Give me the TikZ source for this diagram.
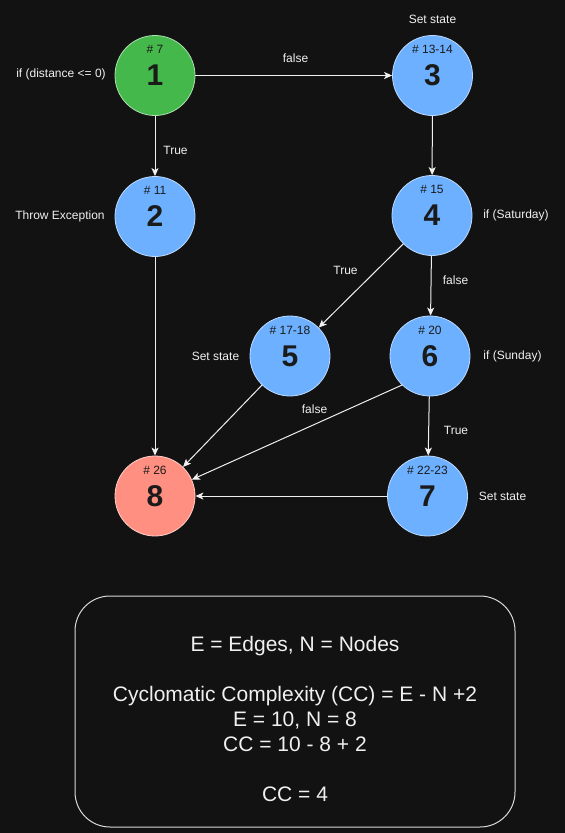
\documentclass[tikz,border=0pt]{standalone}
\usepackage{fontspec}
\setmainfont{Liberation Sans}
\usetikzlibrary{arrows.meta}
\definecolor{bg}{HTML}{121212}
\definecolor{cgreen}{HTML}{44B84A}
\definecolor{cblue}{HTML}{6CB0FF}
\definecolor{cred}{HTML}{FF8F80}
\definecolor{ink}{HTML}{1A1A1A}
\definecolor{edgec}{HTML}{F0F0F0}
\tikzset{
  state/.style={circle, minimum size=80pt, inner sep=0pt, draw=white!55!#1, line width=0.8pt, fill=#1, text=ink, font=\fontsize{30}{30}\selectfont\bfseries},
  hashlbl/.style={text=ink, font=\fontsize{12}{14}\selectfont, inner sep=0pt},
  lbl/.style={text=edgec, font=\fontsize{12}{14}\selectfont, inner sep=0pt},
  arr/.style={draw=edgec, line width=1pt, -{Stealth[length=8pt,width=7pt,inset=2pt]}},
}
\begin{document}
\begin{tikzpicture}[x=1pt,y=-1pt]
\fill[bg] (0,0) rectangle (565,833);
\useasboundingbox (0,0) rectangle (565,833);
% nodes
\node[state=cgreen] (n1) at (155,75.5) {1};
\node[state=cblue]  (n2) at (155,216.5) {2};
\node[state=cblue]  (n3) at (432.5,75.5) {3};
\node[state=cblue]  (n4) at (432,215.5) {4};
\node[state=cblue]  (n5) at (290,356) {5};
\node[state=cblue]  (n6) at (430,356) {6};
\node[state=cblue]  (n7) at (427.5,496) {7};
\node[state=cred]   (n8) at (155,496) {8};
% hash labels
\node[hashlbl] (h1) at (155,49) {\# 7};
\node[hashlbl] (h2) at (155,190.5) {\# 11};
\node[hashlbl] (h3) at (432.5,49.5) {\# 13-14};
\node[hashlbl] (h4) at (432,189.5) {\# 15};
\node[hashlbl] (h5) at (290,330.5) {\# 17-18};
\node[hashlbl] (h6) at (430,330.5) {\# 20};
\node[hashlbl] (h7) at (427.5,470.5) {\# 22-23};
\node[hashlbl] (h8) at (155,470.5) {\# 26};
% side labels
\node[lbl] (l1) at (61,74) {if (distance <= 0)};
\node[lbl] (l2) at (60,216) {Throw Exception};
\node[lbl] (l3) at (432.5,19) {Set state};
\node[lbl] (l4) at (516,215) {if (Saturday)};
\node[lbl] (l5) at (215.5,356) {Set state};
\node[lbl] (l6) at (512.5,356) {if (Sunday)};
\node[lbl] (l7) at (502.5,496) {Set state};
% edge labels
\node[lbl] (e12) at (175.5,150) {True};
\node[lbl] (e13) at (295.5,58) {false};
\node[lbl] (e45) at (345.5,270) {True};
\node[lbl] (e46) at (455.5,280) {false};
\node[lbl] (e68) at (314.5,409) {false};
\node[lbl] (e67) at (456,430) {True};
% edges
\draw[arr] (n1) -- (n2);
\draw[arr] (n1) -- (n3);
\draw[arr] (n3) -- (n4);
\draw[arr] (n4) -- (n5);
\draw[arr] (n4) -- (n6);
\draw[arr] (n2) -- (n8);
\draw[arr] (n5) -- (n8);
\draw[arr] (n6.226) -- (n8.24);
\draw[arr] (n6) -- (n7);
\draw[arr] (n7) -- (n8);
% formula box
\node[draw=white!85!black, line width=1pt, rounded corners=35pt, minimum width=440pt, minimum height=231pt, inner sep=0pt] (box) at (295,711.5) {};
\node[text=edgec, align=center, font=\fontsize{21}{25}\selectfont, inner sep=0pt] (formula) at (295,719)
  {E = Edges, N = Nodes\\[25pt]Cyclomatic Complexity (CC) = E - N +2\\E = 10, N = 8\\CC = 10 - 8 + 2\\[25pt]CC = 4};
\end{tikzpicture}
\end{document}
